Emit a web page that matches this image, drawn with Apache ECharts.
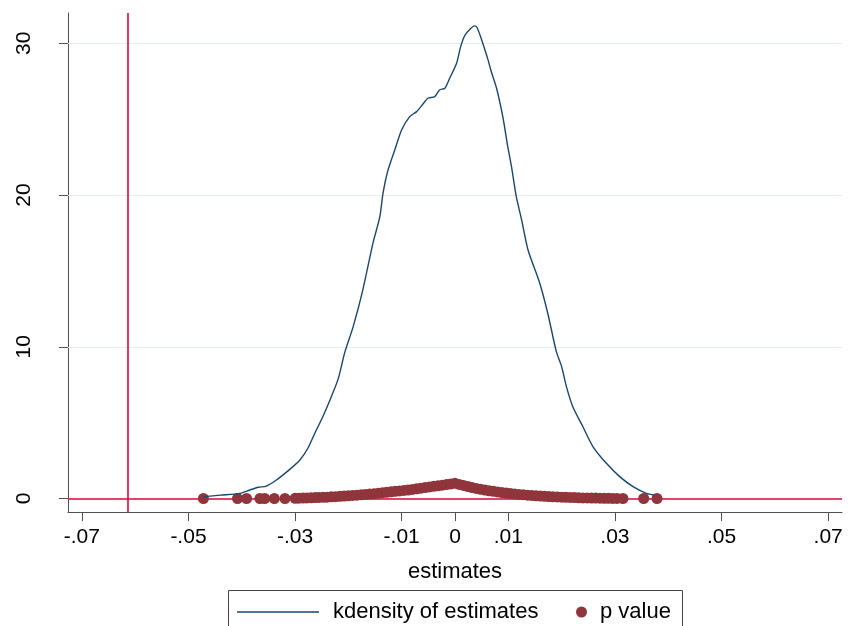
<!DOCTYPE html>
<html>
<head>
<meta charset="utf-8">
<script src="https://cdn.jsdelivr.net/npm/echarts@6/dist/echarts.min.js"></script>
<style>
html,body{margin:0;padding:0;background:#fff;}
#chart{width:856px;height:626px;}
</style>
</head>
<body>
<div id="chart"></div>
<script>
// ---- data ----
var xTicks = [-0.07, -0.05, -0.03, -0.01, 0, 0.01, 0.03, 0.05, 0.07];
var yTicks = [0, 10, 20, 30];
var xTitle = 'estimates';
var seriesNames = ['kdensity of estimates', 'p value'];
var refLineX = -0.0614;
var refLineY = 0;

// kernel density of estimates: [estimate, density]
var kdensity = [
  [-0.0471, 0.12], [-0.0440, 0.22], [-0.0403, 0.34], [-0.0385, 0.56], [-0.0369, 0.74],
  [-0.0354, 0.82], [-0.0335, 1.22], [-0.0310, 1.92], [-0.0291, 2.54], [-0.0276, 3.31],
  [-0.0263, 4.30], [-0.0248, 5.39], [-0.0232, 6.71], [-0.0219, 7.90], [-0.0207, 9.60],
  [-0.0191, 11.33], [-0.0173, 13.74], [-0.0154, 16.82], [-0.0141, 18.58], [-0.0135, 20.12],
  [-0.0126, 21.60], [-0.0113, 22.97], [-0.0100, 24.30], [-0.0085, 25.17], [-0.0072, 25.50],
  [-0.0060, 26.00], [-0.0051, 26.38], [-0.0038, 26.49], [-0.0029, 26.93], [-0.0019, 27.04],
  [-0.0010, 27.70], [0.0003, 28.69], [0.0010, 29.70], [0.0018, 30.50], [0.0028, 30.93],
  [0.0037, 31.15], [0.0041, 31.06], [0.0049, 30.34], [0.0062, 28.91], [0.0068, 28.14],
  [0.0078, 27.04], [0.0090, 25.10], [0.0099, 23.19], [0.0106, 21.87], [0.0115, 19.89],
  [0.0125, 18.36], [0.0137, 16.38], [0.0159, 14.19], [0.0174, 12.21], [0.0190, 9.70],
  [0.0200, 8.70], [0.0209, 7.37], [0.0221, 6.05], [0.0240, 4.73], [0.0259, 3.41],
  [0.0284, 2.32], [0.0309, 1.44], [0.0334, 0.78], [0.0359, 0.34], [0.0374, 0.23]
];

// p value of each estimate: [estimate, p]
var pValues = [
  [-0.0472, 0.00], [-0.0408, 0.00], [-0.0391, 0.00], [-0.0366, 0.00], [-0.0357, 0.00],
  [-0.0339, 0.00], [-0.0319, 0.00], [-0.0300, 0.01], [-0.0293, 0.02], [-0.0285, 0.03],
  [-0.0278, 0.04], [-0.0270, 0.05], [-0.0262, 0.06], [-0.0255, 0.07], [-0.0247, 0.08],
  [-0.0240, 0.09], [-0.0232, 0.11], [-0.0224, 0.12], [-0.0216, 0.14], [-0.0208, 0.16],
  [-0.0200, 0.18], [-0.0192, 0.20], [-0.0184, 0.22], [-0.0176, 0.24], [-0.0168, 0.27],
  [-0.0160, 0.29], [-0.0152, 0.32], [-0.0144, 0.35], [-0.0136, 0.38], [-0.0128, 0.41],
  [-0.0120, 0.44], [-0.0112, 0.47], [-0.0104, 0.50], [-0.0096, 0.53], [-0.0088, 0.56],
  [-0.0080, 0.60], [-0.0072, 0.64], [-0.0064, 0.68], [-0.0056, 0.72], [-0.0048, 0.76],
  [-0.0040, 0.80], [-0.0032, 0.84], [-0.0024, 0.88], [-0.0016, 0.92], [-0.0008, 0.96],
  [0.0000, 1.00], [0.0008, 0.93], [0.0016, 0.86], [0.0024, 0.79], [0.0032, 0.72],
  [0.0040, 0.66], [0.0048, 0.61], [0.0056, 0.56], [0.0064, 0.51], [0.0072, 0.47],
  [0.0080, 0.43], [0.0088, 0.39], [0.0096, 0.36], [0.0104, 0.33], [0.0112, 0.30],
  [0.0120, 0.27], [0.0128, 0.25], [0.0136, 0.22], [0.0144, 0.20], [0.0152, 0.18],
  [0.0160, 0.16], [0.0168, 0.14], [0.0176, 0.13], [0.0184, 0.11], [0.0192, 0.10],
  [0.0200, 0.09], [0.0208, 0.08], [0.0216, 0.07], [0.0224, 0.06], [0.0232, 0.05],
  [0.0240, 0.04], [0.0248, 0.035], [0.0256, 0.03], [0.0264, 0.025], [0.0272, 0.02],
  [0.0280, 0.015], [0.0288, 0.01], [0.0296, 0.008], [0.0304, 0.005], [0.0315, 0.00],
  [0.0354, 0.00], [0.0379, 0.00]
];

// ---- chart ----
var FONT = '"Liberation Sans", Arial, Helvetica, sans-serif';
var AXIS_COLOR = '#505050';
var BLUE = '#1a476f';
var MAROON = '#90353b';
var RED = '#e0063c';
var GRID_COLOR = '#e6eef0';

function fmtX(v) {
  if (Math.abs(v) < 1e-9) return '0';
  var s = String(Math.round(v * 100) / 100);
  return s.replace('0.', '.');
}

var chart = echarts.init(document.getElementById('chart'), null, {renderer: 'canvas'});
chart.setOption({
  animation: false,
  backgroundColor: '#ffffff',
  textStyle: {fontFamily: FONT},
  grid: {left: 68, right: 14, top: 13, bottom: 114, containLabel: false},
  xAxis: {
    type: 'value',
    min: -0.0726, max: 0.0726,
    name: xTitle,
    nameLocation: 'middle',
    nameGap: 49,
    nameTextStyle: {fontSize: 22, color: '#000', fontFamily: FONT},
    axisLine: {show: true, onZero: false, lineStyle: {color: AXIS_COLOR, width: 1}},
    axisTick: {show: true, length: 9, customValues: xTicks, lineStyle: {color: AXIS_COLOR}},
    axisLabel: {customValues: xTicks, formatter: fmtX, fontSize: 21, color: '#000', margin: 15, fontFamily: FONT},
    splitLine: {show: false}
  },
  yAxis: {
    type: 'value',
    min: -0.89, max: 32.0,
    axisLine: {show: true, onZero: false, lineStyle: {color: AXIS_COLOR, width: 1}},
    axisTick: {show: true, length: 9, customValues: yTicks, lineStyle: {color: AXIS_COLOR}},
    axisLabel: {customValues: yTicks, rotate: 90, fontSize: 21, color: '#000', margin: 33, fontFamily: FONT},
    splitLine: {show: false}
  },
  graphic: [{
    type: 'rect', z: 0,
    shape: {x: 228.5, y: 590.5, width: 454, height: 60},
    style: {fill: '#fff', stroke: '#444', lineWidth: 1}
  }],
  legend: [{
    data: [seriesNames[0]],
    left: 237, top: 601, z: 10,
    icon: 'rect', itemWidth: 82, itemHeight: 1.5,
    padding: 0,
    textStyle: {fontSize: 22, color: '#000', fontFamily: FONT, padding: [0, 0, 0, 9]}
  }, {
    data: [seriesNames[1]],
    left: 576, top: 601, z: 10,
    icon: 'circle', itemWidth: 11, itemHeight: 11,
    padding: 0,
    textStyle: {fontSize: 22, color: '#000', fontFamily: FONT, padding: [0, 0, 0, 8]}
  }],
  series: [{
    name: '_grid', type: 'line', data: [], z: 1, silent: true,
    markLine: {
      silent: true, symbol: 'none', animation: false, z: 1, precision: 6,
      label: {show: false},
      lineStyle: {color: GRID_COLOR, width: 1, type: 'solid'},
      data: yTicks.map(function (v) { return {yAxis: v}; })
    }
  }, {
    name: '_ref', type: 'line', data: [], z: 2, silent: true,
    markLine: {
      silent: true, symbol: 'none', animation: false, z: 2, precision: 6,
      label: {show: false},
      lineStyle: {color: RED, width: 1.6, type: 'solid'},
      data: [{xAxis: refLineX}, {yAxis: refLineY}]
    }
  }, {
    name: seriesNames[1], type: 'scatter', z: 3,
    symbol: 'circle', symbolSize: 11,
    itemStyle: {color: MAROON, opacity: 1},
    data: pValues
  }, {
    name: seriesNames[0], type: 'line', z: 4,
    showSymbol: false, smooth: 0.25,
    color: BLUE,
    lineStyle: {color: BLUE, width: 1.4},
    itemStyle: {color: BLUE},
    data: kdensity
  }]
});
</script>
</body>
</html>
